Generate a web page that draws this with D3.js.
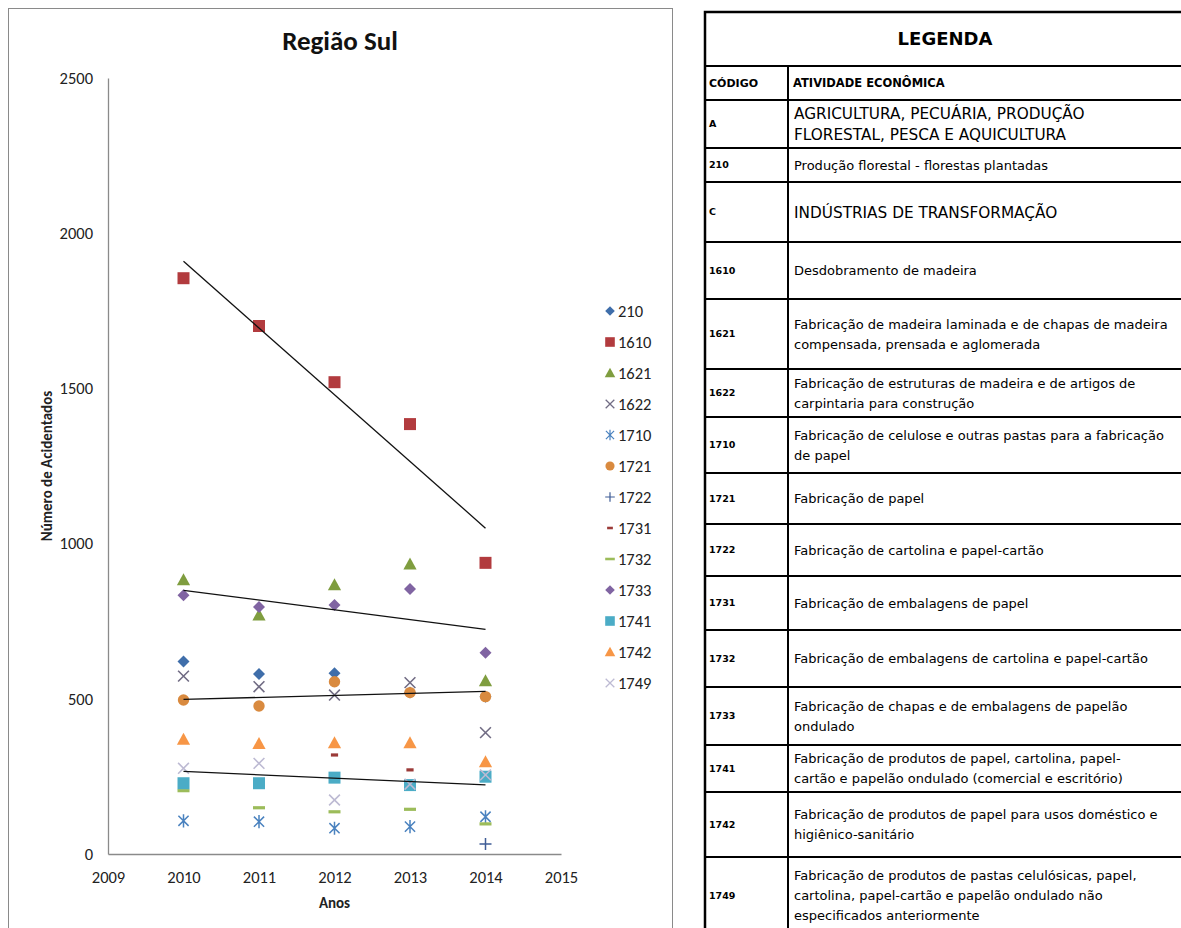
<!DOCTYPE html>
<html>
<head>
<meta charset="utf-8">
<script src="https://cdn.jsdelivr.net/npm/d3@7"></script>
<style>
  body { margin: 0; background: #fff; }
  svg { display: block; }
</style>
</head>
<body>
<svg id="chart" width="1181" height="928"></svg>
<script>
// ---- data ----
const years = [2010, 2011, 2012, 2013, 2014];
const xTicks = [2009, 2010, 2011, 2012, 2013, 2014, 2015];
const yTicks = [0, 500, 1000, 1500, 2000, 2500];

const seriesCodes = ["210", "1610", "1621", "1622", "1710", "1721", "1722", "1731", "1732", "1733", "1741", "1742", "1749"];

const v210  = [620, 580, 582, 520, 507];
const v1610 = [1855, 1701, 1520, 1385, 938];
const v1621 = [883, 770, 867, 934, 558];
const v1622 = [573, 539, 512, 552, 391];
const v1710 = [107, 104, 83, 88, 120];
const v1721 = [496, 477, 555, 520, 507];
const v1722 = [null, null, null, null, 32];
const v1731 = [null, null, 319, 271, null];
const v1732 = [204, 149, 136, 144, 97];
const v1733 = [834, 796, 802, 854, 648];
const v1741 = [228, 228, 246, 222, 249];
const v1742 = [369, 356, 358, 358, 297];
const v1749 = [276, 292, 174, 225, 255];

const seriesValues = [v210, v1610, v1621, v1622, v1710, v1721, v1722, v1731, v1732, v1733, v1741, v1742, v1749];
const seriesShapes = ["diamond", "square", "triangle", "x", "star", "circle", "plus", "dashShort", "dashLong", "diamond", "square", "triangle", "x"];
const seriesColors = ["#3f6eaa", "#b23b3e", "#7f9d3f", "#716c84", "#4a82bf", "#d98a3f", "#3e5c96", "#9b3a38", "#9cbc5a", "#8064a2", "#4bacc6", "#f79646", "#bdbad3"];

// series that carry a linear trend line
const trendCodes = ["1610", "1733", "1721", "1749"];

// legend table
const tableTitle = "LEGENDA";
const tableHeader = ["CÓDIGO", "ATIVIDADE ECONÔMICA"];
const tableCodes = ["A", "210", "C", "1610", "1621", "1622", "1710", "1721", "1722", "1731", "1732", "1733", "1741", "1742", "1749"];
const tableDescriptions = [
  ["AGRICULTURA, PECUÁRIA, PRODUÇÃO", "FLORESTAL, PESCA E AQUICULTURA"],
  ["Produção florestal - florestas plantadas"],
  ["INDÚSTRIAS DE TRANSFORMAÇÃO"],
  ["Desdobramento de madeira"],
  ["Fabricação de madeira laminada e de chapas de madeira", "compensada, prensada e aglomerada"],
  ["Fabricação de estruturas de madeira e de artigos de", "carpintaria para construção"],
  ["Fabricação de celulose e outras pastas para a fabricação", "de papel"],
  ["Fabricação de papel"],
  ["Fabricação de cartolina e papel-cartão"],
  ["Fabricação de embalagens de papel"],
  ["Fabricação de embalagens de cartolina e papel-cartão"],
  ["Fabricação de chapas e de embalagens de papelão", "ondulado"],
  ["Fabricação de produtos de papel, cartolina, papel-", "cartão e papelão ondulado (comercial e escritório)"],
  ["Fabricação de produtos de papel para usos doméstico e", "higiênico-sanitário"],
  ["Fabricação de produtos de pastas celulósicas, papel,", "cartolina, papel-cartão e papelão ondulado não", "especificados anteriormente"]
];
const tableSections = ["A", "C"];

// ---- chart ----
const svg = d3.select("#chart");
const chartFont = "Carlito, Calibri, Lato, sans-serif";

svg.append("rect")
  .attr("x", 8.5).attr("y", 8.5).attr("width", 664).attr("height", 940)
  .attr("fill", "#fff").attr("stroke", "#8a8a8a").attr("stroke-width", 1);

const x = d3.scaleLinear().domain([2009, 2015]).range([108, 561]);
const y = d3.scaleLinear().domain([0, 2500]).range([854, 78]);

svg.append("text")
  .attr("x", 340).attr("y", 50)
  .attr("text-anchor", "middle")
  .attr("font-family", chartFont).attr("font-weight", "bold").attr("font-size", 27)
  .attr("fill", "#111")
  .text("Região Sul");

const yAxis = svg.append("g")
  .attr("transform", `translate(${x(2009)},0)`)
  .call(d3.axisLeft(y).tickValues(yTicks).tickFormat(d3.format("d")).tickSize(0).tickSizeOuter(0).tickPadding(15));
const xAxis = svg.append("g")
  .attr("transform", `translate(0,${y(0)})`)
  .call(d3.axisBottom(x).tickValues(xTicks).tickFormat(d3.format("d")).tickSize(0).tickSizeOuter(0).tickPadding(17));
[yAxis, xAxis].forEach(g => {
  g.select(".domain").attr("stroke", "#8a8a8a").attr("stroke-width", 1.3);
  g.selectAll("text").attr("font-family", chartFont).attr("font-size", 16.5).attr("fill", "#222");
});

svg.append("text")
  .attr("transform", `translate(52,${(y(0) + y(2500)) / 2}) rotate(-90)`)
  .attr("text-anchor", "middle")
  .attr("font-family", chartFont).attr("font-weight", "bold").attr("font-size", 15)
  .attr("fill", "#222")
  .text("Número de Acidentados");

svg.append("text")
  .attr("x", (x(2009) + x(2015)) / 2).attr("y", 908)
  .attr("text-anchor", "middle")
  .attr("font-family", chartFont).attr("font-weight", "bold").attr("font-size", 15)
  .attr("fill", "#222")
  .text("Anos");

// marker glyphs centred on the origin
function marker(sel, shape, color, k) {
  const r = 6 * k;
  const filled = (d) => sel.append("path").attr("d", d).attr("fill", color);
  const stroked = (d, w) => sel.append("path").attr("d", d).attr("fill", "none")
    .attr("stroke", color).attr("stroke-width", w * k);
  switch (shape) {
    case "diamond": filled(`M0,${-r}L${r},0L0,${r}L${-r},0Z`); break;
    case "square": filled(`M${-r},${-r}H${r}V${r}H${-r}Z`); break;
    case "triangle": filled(`M0,${-r * 1.1}L${r * 1.1},${r * 0.9}L${-r * 1.1},${r * 0.9}Z`); break;
    case "circle": filled(d3.symbol(d3.symbolCircle, Math.PI * (r * 0.95) ** 2)()); break;
    case "x": stroked(`M${-r * 0.9},${-r * 0.9}L${r * 0.9},${r * 0.9}M${-r * 0.9},${r * 0.9}L${r * 0.9},${-r * 0.9}`, 1.6); break;
    case "star": stroked(`M${-r * 0.85},${-r * 0.85}L${r * 0.85},${r * 0.85}M${-r * 0.85},${r * 0.85}L${r * 0.85},${-r * 0.85}M0,${-r * 1.1}V${r * 1.1}`, 1.5); break;
    case "plus": stroked(`M${-r},0H${r}M0,${-r}V${r}`, 1.5); break;
    case "dashShort": filled(`M${-r * 0.6},${-1.6 * k}H${r * 0.6}V${1.6 * k}H${-r * 0.6}Z`); break;
    case "dashLong": filled(`M${-r},${-1.6 * k}H${r}V${1.6 * k}H${-r}Z`); break;
  }
}

const pts = svg.append("g");
seriesCodes.forEach((code, i) => {
  seriesValues[i].forEach((v, j) => {
    if (v === null) return;
    const g = pts.append("g").attr("transform", `translate(${x(years[j])},${y(v)})`);
    marker(g, seriesShapes[i], seriesColors[i], 1);
  });
});

// least-squares trend lines over 2010–2014
trendCodes.forEach(code => {
  const vals = seriesValues[seriesCodes.indexOf(code)];
  const pairs = years.map((yr, j) => [yr, vals[j]]).filter(p => p[1] !== null);
  const mx = d3.mean(pairs, p => p[0]);
  const my = d3.mean(pairs, p => p[1]);
  const slope = d3.sum(pairs, p => (p[0] - mx) * (p[1] - my)) / d3.sum(pairs, p => (p[0] - mx) ** 2);
  const f = t => my + slope * (t - mx);
  const x0 = years[0], x1 = years[years.length - 1];
  svg.append("line")
    .attr("x1", x(x0)).attr("y1", y(f(x0)))
    .attr("x2", x(x1)).attr("y2", y(f(x1)))
    .attr("stroke", "#111").attr("stroke-width", 1.3);
});

// series legend
const leg = svg.append("g");
seriesCodes.forEach((code, i) => {
  const ly = 311 + i * 31;
  const g = leg.append("g").attr("transform", `translate(610,${ly})`);
  marker(g, seriesShapes[i], seriesColors[i], 0.8);
  leg.append("text")
    .attr("x", 618).attr("y", ly).attr("dy", "0.35em")
    .attr("font-family", chartFont).attr("font-size", 16.5).attr("fill", "#222")
    .text(code);
});

// ---- legend table ----
const tLeft = 705, tRight = 1185, tTop = 12, colX = 788;
const titleBottom = 66, headerBottom = 100;
const rowBottoms = [148, 182, 242, 299, 369, 417, 473, 524, 576, 630, 687, 745, 792, 857, 934];
const tFont = "'DejaVu Sans', Verdana, sans-serif";
const tbl = svg.append("g");

tbl.append("text")
  .attr("x", (tLeft + tRight) / 2).attr("y", (tTop + titleBottom) / 2).attr("dy", "0.36em")
  .attr("text-anchor", "middle")
  .attr("font-family", tFont).attr("font-weight", "bold").attr("font-size", 18)
  .text(tableTitle);

const headerMid = (titleBottom + headerBottom) / 2;
tbl.append("text").attr("x", 709).attr("y", headerMid).attr("dy", "0.36em")
  .attr("font-family", tFont).attr("font-weight", "bold").attr("font-size", 11)
  .text(tableHeader[0]);
tbl.append("text").attr("x", 793).attr("y", headerMid).attr("dy", "0.36em")
  .attr("font-family", tFont).attr("font-weight", "bold").attr("font-size", 11.5)
  .text(tableHeader[1]);

tableCodes.forEach((code, i) => {
  const top = i === 0 ? headerBottom : rowBottoms[i - 1];
  const bottom = rowBottoms[i];
  const mid = (top + bottom) / 2;
  const isSection = tableSections.includes(code);
  tbl.append("text").attr("x", 709).attr("y", mid).attr("dy", "0.36em")
    .attr("font-family", tFont).attr("font-weight", "bold").attr("font-size", 9.5)
    .text(code);
  const lines = tableDescriptions[i];
  const lh = isSection ? 21 : 20;
  lines.forEach((ln, k) => {
    tbl.append("text")
      .attr("x", 794).attr("y", mid + (k - (lines.length - 1) / 2) * lh).attr("dy", "0.36em")
      .attr("font-family", tFont).attr("font-size", isSection ? 15.3 : 13)
      .text(ln);
  });
});

// grid lines
const hLines = [titleBottom, headerBottom, ...rowBottoms];
hLines.forEach(hy => {
  tbl.append("line").attr("x1", tLeft).attr("x2", tRight).attr("y1", hy).attr("y2", hy)
    .attr("stroke", "#000").attr("stroke-width", 2);
});
tbl.append("line").attr("x1", colX).attr("x2", colX).attr("y1", titleBottom).attr("y2", 940)
  .attr("stroke", "#000").attr("stroke-width", 2);
tbl.append("rect").attr("x", tLeft).attr("y", tTop).attr("width", tRight - tLeft).attr("height", 940)
  .attr("fill", "none").attr("stroke", "#000").attr("stroke-width", 2.5);
</script>
</body>
</html>
